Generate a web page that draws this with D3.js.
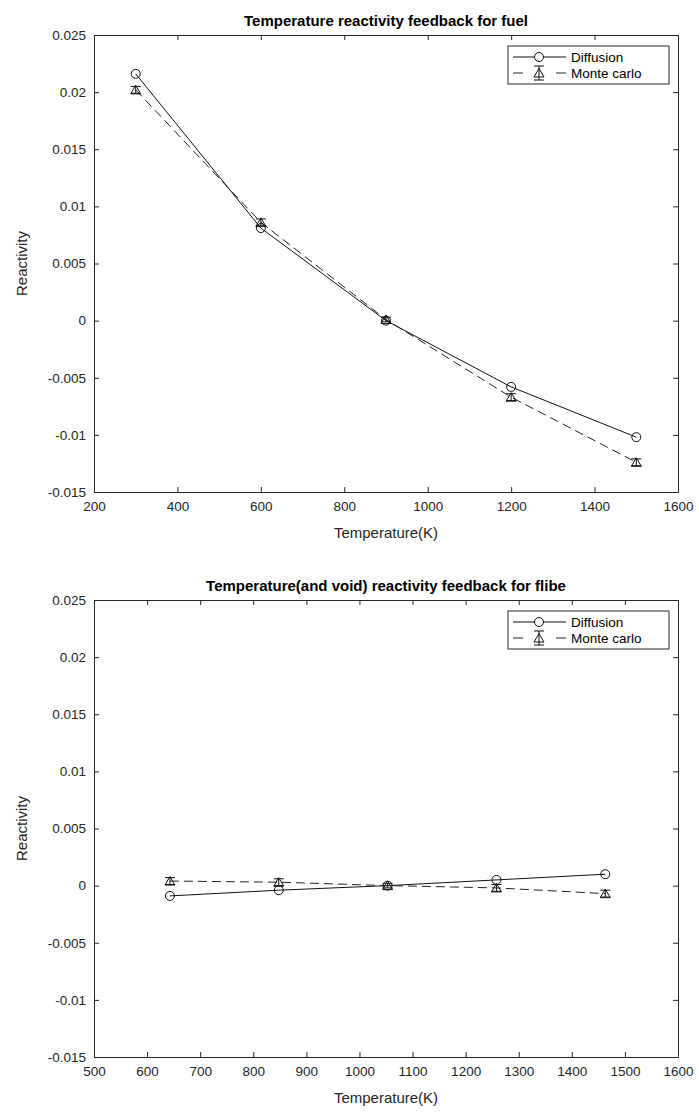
<!DOCTYPE html>
<html>
<head>
<meta charset="utf-8">
<script src="https://cdn.jsdelivr.net/npm/d3@7"></script>
<style>
  body { margin: 0; background: #fff; }
  svg { display: block; font-family: "Liberation Sans", Arial, sans-serif; }
</style>
</head>
<body>
<div class="diagram"></div>
<script>
var width = 699, height = 1119;

// fuel panel
var fuelTemps = [300, 600, 900, 1200, 1500];
var fuelDiffusion = [0.0216, 0.0081, 0.0000, -0.0058, -0.0102];
var fuelMonteCarlo = [0.0202, 0.0086, 0.0001, -0.0067, -0.0124];
var fuelMcError = [0.0003, 0.0003, 0.0002, 0.0003, 0.0003];
var fuelXTicks = [200, 400, 600, 800, 1000, 1200, 1400, 1600];

// flibe panel
var flibeTemps = [643, 848, 1053, 1258, 1463];
var flibeDiffusion = [-0.0009, -0.0004, 0.0000, 0.0005, 0.0010];
var flibeMonteCarlo = [0.0004, 0.0003, 0.0000, -0.0002, -0.0007];
var flibeMcError = [0.0003, 0.0003, 0.0002, 0.0003, 0.0003];
var flibeXTicks = [500, 600, 700, 800, 900, 1000, 1100, 1200, 1300, 1400, 1500, 1600];

var yTicks = [-0.015, -0.01, -0.005, 0, 0.005, 0.01, 0.015, 0.02, 0.025];
var yTickLabels = ["-0.015", "-0.01", "-0.005", "0", "0.005", "0.01", "0.015", "0.02", "0.025"];
var legendLabels = ["Diffusion", "Monte carlo"];

var ink = "#262626";

var svg = d3.select('.diagram')
  .append('svg')
  .attr('width', width)
  .attr('height', height);

function panel(top, title, temps, diff, mc, mcErr, xTicks) {
  var left = 94, right = 678, bottom = top + 457;

  var x = d3.scaleLinear().domain([xTicks[0], xTicks[xTicks.length - 1]]).range([left, right]);
  var y = d3.scaleLinear().domain([-0.015, 0.025]).range([bottom, top]);

  var g = svg.append('g');

  // box + inward ticks on all sides
  g.append('g')
    .attr('transform', 'translate(0,' + bottom + ')')
    .call(d3.axisBottom(x).tickValues(xTicks).tickFormat(d3.format('d')).tickSizeInner(-5).tickSizeOuter(0).tickPadding(9));
  g.append('g')
    .attr('transform', 'translate(0,' + top + ')')
    .call(d3.axisTop(x).tickValues(xTicks).tickFormat('').tickSizeInner(-5).tickSizeOuter(0));
  g.append('g')
    .attr('transform', 'translate(' + left + ',0)')
    .call(d3.axisLeft(y).tickValues(yTicks).tickFormat(function(d, i) { return yTickLabels[i]; }).tickSizeInner(-5).tickSizeOuter(0).tickPadding(8));
  g.append('g')
    .attr('transform', 'translate(' + right + ',0)')
    .call(d3.axisRight(y).tickValues(yTicks).tickFormat('').tickSizeInner(-5).tickSizeOuter(0));

  g.selectAll('.domain').attr('stroke', ink);
  g.selectAll('.tick line').attr('stroke', ink);
  g.selectAll('.tick text').attr('fill', ink).style('font-size', '13.5px').style('font-family', '"Liberation Sans", Arial, sans-serif');

  g.append('text')
    .attr('x', (left + right) / 2).attr('y', top - 9)
    .attr('text-anchor', 'middle')
    .style('font-size', '15px').style('font-weight', 'bold')
    .attr('fill', '#000')
    .text(title);

  g.append('text')
    .attr('x', (left + right) / 2).attr('y', bottom + 46)
    .attr('text-anchor', 'middle')
    .style('font-size', '15px')
    .attr('fill', ink)
    .text('Temperature(K)');

  g.append('text')
    .attr('transform', 'translate(27,' + (top + bottom) / 2 + ') rotate(-90)')
    .attr('text-anchor', 'middle')
    .style('font-size', '15px')
    .attr('fill', ink)
    .text('Reactivity');

  var line = d3.line()
    .x(function(d) { return x(d.t); })
    .y(function(d) { return y(d.v); });

  var diffData = temps.map(function(t, i) { return {t: t, v: diff[i]}; });
  var mcData = temps.map(function(t, i) { return {t: t, v: mc[i], e: mcErr[i]}; });

  g.append('path')
    .attr('d', line(diffData))
    .attr('fill', 'none').attr('stroke', '#111').attr('stroke-width', 1);

  g.append('path')
    .attr('d', line(mcData))
    .attr('fill', 'none').attr('stroke', '#222').attr('stroke-width', 1)
    .attr('stroke-dasharray', '9,5');

  // error bars
  var eb = g.selectAll('.eb').data(mcData).enter().append('g');
  eb.append('line')
    .attr('x1', function(d) { return x(d.t); }).attr('x2', function(d) { return x(d.t); })
    .attr('y1', function(d) { return y(d.v - d.e); }).attr('y2', function(d) { return y(d.v + d.e); })
    .attr('stroke', '#111');
  [-1, 1].forEach(function(s) {
    eb.append('line')
      .attr('x1', function(d) { return x(d.t) - 5; }).attr('x2', function(d) { return x(d.t) + 5; })
      .attr('y1', function(d) { return y(d.v + s * d.e); }).attr('y2', function(d) { return y(d.v + s * d.e); })
      .attr('stroke', '#111');
  });

  g.selectAll('.tri').data(mcData).enter().append('path')
    .attr('d', function(d) { return triangle(x(d.t), y(d.v)); })
    .attr('fill', 'none').attr('stroke', '#111');

  g.selectAll('.circ').data(diffData).enter().append('circle')
    .attr('cx', function(d) { return x(d.t); })
    .attr('cy', function(d) { return y(d.v); })
    .attr('r', 4.5)
    .attr('fill', 'none').attr('stroke', '#111');

  // legend
  var lw = 161, lh = 38;
  var lx = right - 9 - lw, ly = top + 11;
  var lg = g.append('g').attr('transform', 'translate(' + lx + ',' + ly + ')');
  lg.append('rect').attr('width', lw).attr('height', lh)
    .attr('fill', '#fff').attr('stroke', ink);
  var r1 = 11, r2 = 27, mx = 31;
  lg.append('line').attr('x1', 5).attr('x2', 58).attr('y1', r1).attr('y2', r1).attr('stroke', '#111');
  lg.append('circle').attr('cx', mx).attr('cy', r1).attr('r', 4.5).attr('fill', '#fff').attr('stroke', '#111');
  lg.append('line').attr('x1', 5).attr('x2', 58).attr('y1', r2).attr('y2', r2)
    .attr('stroke', '#222').attr('stroke-dasharray', '10,33');
  lg.append('line').attr('x1', mx).attr('x2', mx).attr('y1', r2 - 7).attr('y2', r2 + 7).attr('stroke', '#111');
  lg.append('line').attr('x1', mx - 5).attr('x2', mx + 5).attr('y1', r2 - 7).attr('y2', r2 - 7).attr('stroke', '#111');
  lg.append('line').attr('x1', mx - 5).attr('x2', mx + 5).attr('y1', r2 + 7).attr('y2', r2 + 7).attr('stroke', '#111');
  lg.append('path').attr('d', triangle(mx, r2)).attr('fill', 'none').attr('stroke', '#111');
  lg.selectAll('.lt').data(legendLabels).enter().append('text')
    .attr('x', 63)
    .attr('y', function(d, i) { return (i ? r2 : r1) + 5; })
    .style('font-size', '13.5px')
    .attr('fill', '#000')
    .text(function(d) { return d; });
}

function triangle(cx, cy) {
  return 'M' + cx + ',' + (cy - 4.5) + 'L' + (cx + 5) + ',' + (cy + 4) + 'L' + (cx - 5) + ',' + (cy + 4) + 'Z';
}

panel(35, 'Temperature reactivity feedback for fuel', fuelTemps, fuelDiffusion, fuelMonteCarlo, fuelMcError, fuelXTicks);
panel(600, 'Temperature(and void) reactivity feedback for flibe', flibeTemps, flibeDiffusion, flibeMonteCarlo, flibeMcError, flibeXTicks);
</script>
</body>
</html>
